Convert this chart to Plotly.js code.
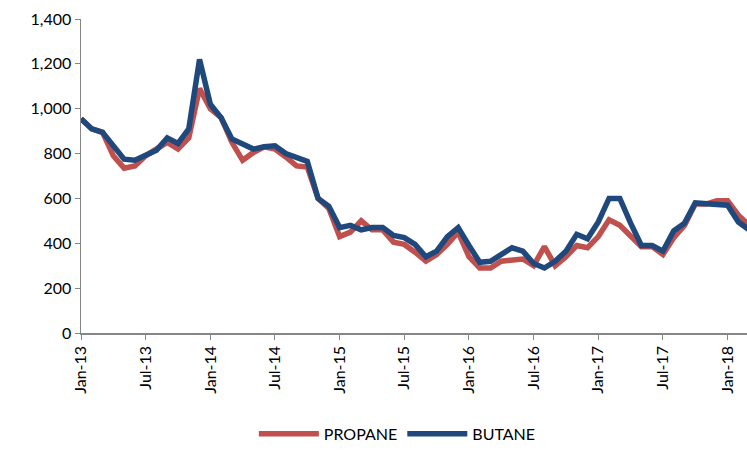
<!DOCTYPE html>
<html>
<head>
<meta charset="utf-8">
<script src="https://cdn.plot.ly/plotly-3.0.1.min.js"></script>
<style>html,body{margin:0;padding:0;background:#fff;}#chart{width:747px;height:452px;}</style>
</head>
<body>
<div id="chart"></div>
<script>
// Month categories Jan-13 .. Mar-18
const monthNames = ["Jan","Feb","Mar","Apr","May","Jun","Jul","Aug","Sep","Oct","Nov","Dec"];
const months = [];
for (let y = 13; y <= 18; y++) {
  for (let m = 0; m < 12; m++) {
    if (y === 18 && m > 2) break;
    months.push(monthNames[m] + "-" + y);
  }
}
const tickLabels = ["Jan-13","Jul-13","Jan-14","Jul-14","Jan-15","Jul-15","Jan-16","Jul-16","Jan-17","Jul-17","Jan-18"];
const yTicks = [0,200,400,600,800,1000,1200,1400];

const propane = [955,910,895,790,735,745,790,820,850,820,870,1090,
                 1000,960,850,770,805,830,820,785,745,740,600,555,
                 430,450,500,460,460,405,395,360,320,350,395,450,
                 340,290,290,320,325,330,300,385,300,340,390,380,
                 430,505,480,430,385,385,350,425,480,575,575,590,
                 590,525,480];
const butane  = [955,910,895,835,775,770,790,815,870,845,910,1220,
                 1020,960,865,840,820,830,835,800,785,765,600,565,
                 470,480,460,470,470,435,425,395,340,365,430,470,
                 390,315,320,350,380,365,310,290,320,365,440,420,
                 495,600,600,490,390,390,365,455,490,580,575,570,
                 570,495,460];

const axisColor = "#868686";
const font = {family: "Lato, 'Open Sans', sans-serif", size: 16, color: "#000"};

const traces = [
  {x: months, y: propane, name: "PROPANE", type: "scatter", mode: "lines",
   line: {color: "#C0504D", width: 5.5}},
  {x: months, y: butane, name: "BUTANE", type: "scatter", mode: "lines",
   line: {color: "#1F497D", width: 5.5}}
];

const layout = {
  width: 747, height: 452,
  margin: {l: 81, r: 0, t: 19, b: 119, autoexpand: false},
  paper_bgcolor: "#fff", plot_bgcolor: "#fff",
  font: font,
  showlegend: true,
  legend: {orientation: "h", x: 0.475, xanchor: "center", y: -0.375, yanchor: "bottom",
           font: font, itemwidth: 60},
  xaxis: {
    type: "category",
    range: [0, 61.8],
    tickmode: "array", tickvals: tickLabels, ticktext: tickLabels,
    tickangle: -90,
    ticks: "outside", ticklen: 5, tickcolor: axisColor, tickwidth: 1,
    showline: true, linecolor: axisColor, linewidth: 1.5,
    showgrid: false, zeroline: false,
    tickfont: font
  },
  yaxis: {
    range: [0, 1400],
    tickmode: "array", tickvals: yTicks,
    tickformat: ",d",
    ticks: "outside", ticklen: 5, tickcolor: axisColor, tickwidth: 1,
    showline: true, linecolor: axisColor, linewidth: 1.5,
    showgrid: false, zeroline: false,
    tickfont: font
  }
};

Plotly.newPlot("chart", traces, layout, {displayModeBar: false, staticPlot: true});
</script>
</body>
</html>
